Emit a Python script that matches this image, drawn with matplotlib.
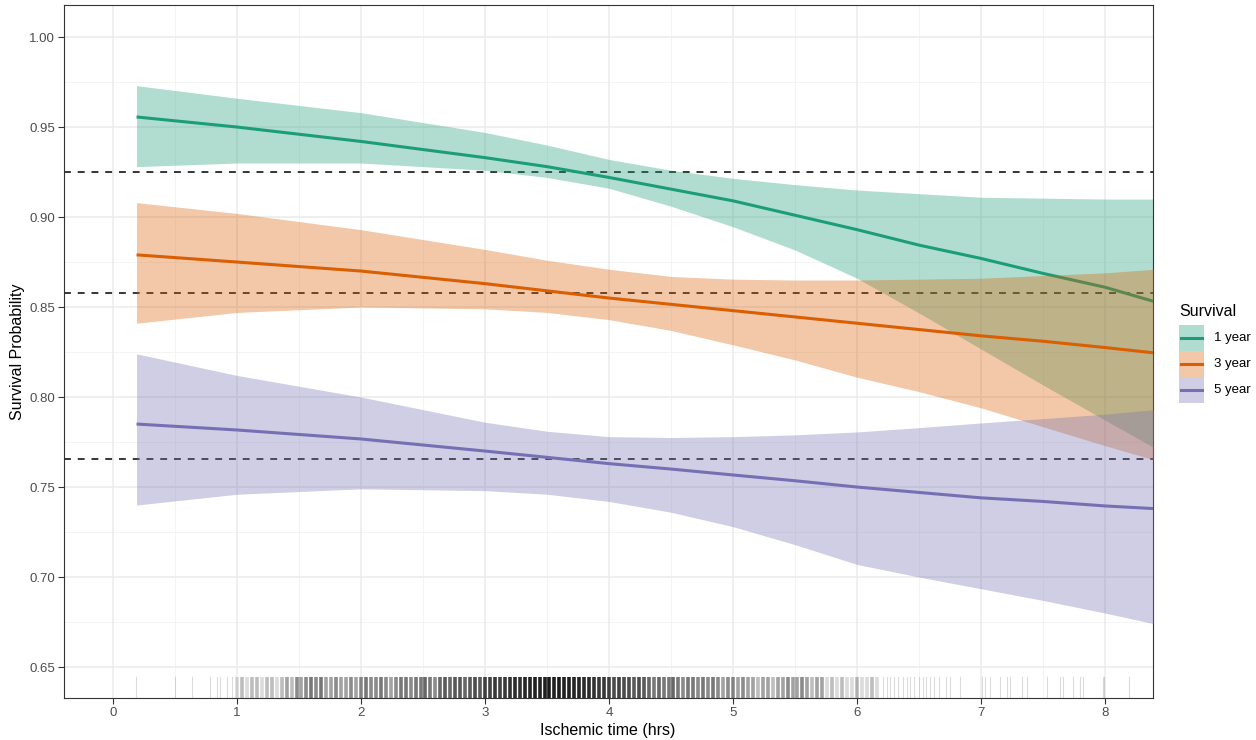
import matplotlib.pyplot as plt
from matplotlib.patches import Rectangle
from matplotlib.lines import Line2D
import numpy as np

plt.rcParams['font.family'] = ['Liberation Sans', 'DejaVu Sans']

# curve readings (hrs -> survival probability)
x = [0.19, 1, 2, 3, 3.5, 4, 4.5, 5, 5.5, 6, 6.5, 7, 7.5, 8, 8.4]

y1 = [0.9556, 0.950, 0.942, 0.933, 0.928, 0.922, 0.9155, 0.909, 0.901, 0.893, 0.8844, 0.877, 0.8687, 0.861, 0.853]
lo1 = [0.928, 0.930, 0.930, 0.926, 0.922, 0.916, 0.906, 0.8946, 0.8817, 0.866, 0.8467, 0.8267, 0.8067, 0.7872, 0.7717]
hi1 = [0.973, 0.966, 0.958, 0.947, 0.940, 0.932, 0.926, 0.9215, 0.918, 0.915, 0.913, 0.911, 0.9105, 0.910, 0.910]

y3 = [0.879, 0.875, 0.870, 0.863, 0.859, 0.855, 0.8515, 0.848, 0.8445, 0.841, 0.8375, 0.834, 0.831, 0.8275, 0.8245]
lo3 = [0.841, 0.847, 0.850, 0.849, 0.847, 0.843, 0.837, 0.829, 0.8206, 0.811, 0.803, 0.794, 0.7835, 0.773, 0.765]
hi3 = [0.908, 0.902, 0.893, 0.882, 0.876, 0.871, 0.867, 0.8655, 0.865, 0.865, 0.8655, 0.866, 0.8675, 0.869, 0.871]

y5 = [0.785, 0.7817, 0.7767, 0.770, 0.7665, 0.763, 0.760, 0.7567, 0.7535, 0.750, 0.747, 0.744, 0.742, 0.7395, 0.738]
lo5 = [0.740, 0.746, 0.749, 0.748, 0.746, 0.742, 0.736, 0.728, 0.718, 0.707, 0.700, 0.6935, 0.687, 0.680, 0.674]
hi5 = [0.824, 0.812, 0.800, 0.786, 0.781, 0.778, 0.7775, 0.778, 0.779, 0.7806, 0.783, 0.7856, 0.788, 0.7905, 0.793]

labels = ["1 year", "3 year", "5 year"]
colors = ["#1B9E77", "#D95F02", "#7570B3"]

# overall survival reference levels
ref_levels = [0.925, 0.858, 0.7656]

# rug: sparse single observations + counts on a 0.04 h grid from 1.00 h
rug_sparse = [0.185, 0.50, 0.635, 0.78, 0.836, 0.863, 0.917, 0.96,
              6.21, 6.24, 6.27, 6.30, 6.33, 6.37, 6.40, 6.43, 6.46, 6.50,
              6.53, 6.56, 6.59, 6.62, 6.66, 6.72, 6.75, 6.83,
              7.01, 7.03, 7.07, 7.15, 7.21, 7.23, 7.33, 7.37, 7.53,
              7.64, 7.66, 7.74, 7.80, 7.82, 7.98, 7.99, 8.19]
rug_start = 1.0
rug_step = 0.04
rug_counts = [1, 2, 1, 2, 2, 1, 2, 2, 1, 2, 3, 2, 4, 3, 4, 5, 4, 5, 3, 3, 4, 3, 3, 4, 3,
              4, 5, 4, 4, 5, 4, 3, 4, 5, 5, 4, 5, 5, 6, 5, 4, 6, 7, 6, 7, 7, 6, 7, 8, 7,
              9, 9, 10, 9, 10, 11, 12, 11, 13, 13, 14, 13, 14, 15, 14, 15, 14, 14, 13, 13, 12, 12, 11, 10, 10,
              9, 8, 9, 8, 8, 7, 8, 7, 6, 5, 6, 5, 5, 6, 5, 4, 5, 5, 4, 5, 4, 5, 4, 3, 4,
              4, 3, 4, 3, 3, 2, 3, 3, 2, 3, 3, 4, 3, 3, 4, 3, 2, 3, 3, 1, 2, 1, 2, 1, 1,
              2, 1, 1, 2, 1]

W, H = 1256, 740
fig = plt.figure(figsize=(W / 100, H / 100), dpi=100)
ax = fig.add_axes([64 / W, 42 / H, (1153 - 64) / W, (698 - 5) / H])

ax.set_xlim(-0.395, 8.387)
ax.set_ylim(0.6328, 1.0178)

# grid like theme_bw
for v in np.arange(0.5, 8.5, 1):
    ax.axvline(v, color="#f2f2f2", lw=0.6, zorder=0)
for v in np.arange(0.675, 1.01, 0.05):
    ax.axhline(v, color="#f2f2f2", lw=0.6, zorder=0)
yt = np.arange(0.65, 1.001, 0.05)
ax.set_xticks(range(0, 9))
ax.set_yticks(yt)
ax.grid(True, color="#ebebeb", lw=1.1, zorder=0)
ax.set_axisbelow(True)

for lv in ref_levels:
    ax.axhline(lv, color="black", lw=1.1, ls=(0, (4.5, 4.5)), zorder=1)

bands = [(y1, lo1, hi1), (y3, lo3, hi3), (y5, lo5, hi5)]
z = 2
for (yy, lo, hi), c in zip(bands, colors):
    ax.fill_between(x, lo, hi, color=c, alpha=0.34, lw=0, zorder=z)
    ax.plot(x, yy, color=c, lw=2.2, zorder=z + 1, solid_capstyle="butt")
    z += 2

# rug
trans = ax.get_xaxis_transform()
base_a = 0.14
for v in rug_sparse:
    ax.plot([v, v], [0, 0.03], color="black", alpha=base_a, lw=0.8, transform=trans, zorder=10)
for i, n in enumerate(rug_counts):
    v = rug_start + i * rug_step
    a = 1 - (1 - base_a) ** n
    ax.plot([v, v], [0, 0.03], color="black", alpha=a, lw=2.6, transform=trans,
            zorder=10, solid_capstyle="butt")

for s in ax.spines.values():
    s.set_color("#333333")
    s.set_linewidth(0.8)
ax.tick_params(colors="#333333", labelcolor="#4d4d4d", labelsize=9.5, length=4, width=0.8, pad=2.5)
ax.set_yticklabels([f"{v:.2f}" for v in yt])

ax.set_xlabel("Ischemic time (hrs)", fontsize=11.5)
ax.set_ylabel("Survival Probability", fontsize=11.5)
ax.xaxis.set_label_coords(544 / 1089 + 0.0, -(730 - 698) / 693)
ax.yaxis.set_label_coords(-(64 - 17) / 1089, 0.5)
ax.xaxis.label.set_va("center")
ax.yaxis.label.set_va("center")

# legend drawn in figure pixels, ggplot style keys
fig.text(1179 / W, 1 - 311 / H, "Survival", fontsize=11.5, va="center", ha="left")
for i, (lab, c) in enumerate(zip(labels, colors)):
    top = 325 + i * 26
    fig.patches.append(Rectangle((1179 / W, 1 - (top + 26) / H), 25 / W, 26 / H,
                                 transform=fig.transFigure, facecolor=c, alpha=0.34, lw=0))
    fig.lines.append(Line2D([1181 / W, 1202 / W], [1 - (top + 13) / H] * 2,
                            transform=fig.transFigure, color=c, lw=2.2))
    fig.text(1214 / W, 1 - (top + 13) / H, lab, fontsize=9.5, va="center", ha="left")

fig.savefig("out.png", dpi=100)
